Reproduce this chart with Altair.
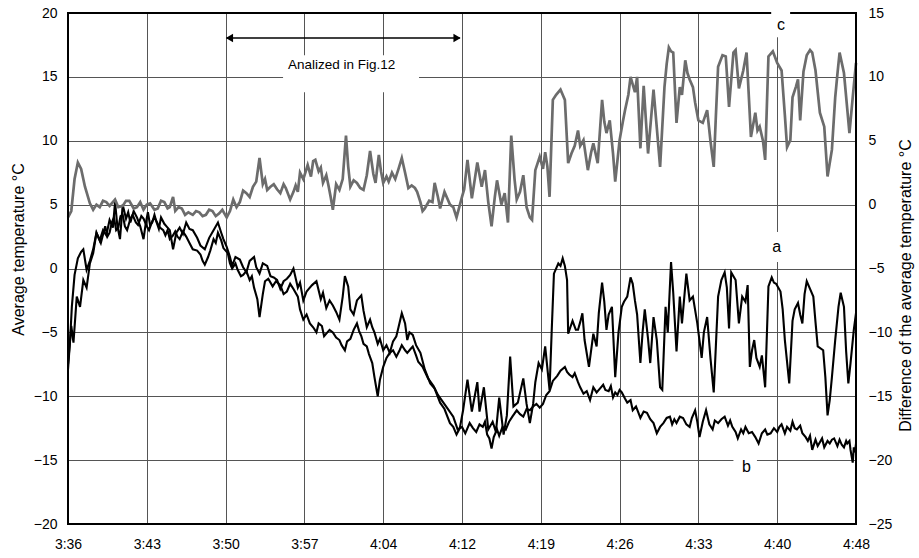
import altair as alt
import pandas as pd

# ---------------- data ----------------
time_labels = ['3:36', '3:43', '3:50', '3:57', '4:04', '4:12', '4:19', '4:26', '4:33', '4:40', '4:48']
tick_minutes = [0, 7.2, 14.4, 21.6, 28.8, 36, 43.2, 50.4, 57.6, 64.8, 72]
left_ticks = [-20, -15, -10, -5, 0, 5, 10, 15, 20]
right_ticks = [-25, -20, -15, -10, -5, 0, 5, 10, 15]

# (minutes after 3:36, average temperature degC) - series a
a_points = [
    (0, -7.9), (0.2, -5.5), (0.35, -3.0), (0.6, -0.5), (0.9, 0.8), (1.2, 1.3), (1.4, 1.5), (1.7, -0.1),
    (2.0, 0.6), (2.3, 1.5), (2.6, 2.8), (2.9, 2.2), (3.2, 3.0), (3.5, 2.6), (3.8, 3.8), (4.1, 3.2),
    (4.3, 5.2), (4.5, 3.4), (4.75, 2.3), (5.0, 5.0), (5.3, 3.9), (5.5, 4.4), (5.7, 3.6), (6.0, 4.5),
    (6.3, 4.0), (6.6, 3.3), (6.9, 2.3), (7.1, 3.5), (7.3, 4.4), (7.5, 3.4), (7.7, 3.6), (7.9, 4.2),
    (8.1, 3.6), (8.3, 3.1), (8.5, 4.0), (8.8, 3.5), (9.0, 3.3), (9.3, 3.0), (9.6, 1.5), (9.9, 2.8),
    (10.2, 3.2), (10.5, 2.7), (10.8, 3.6), (11.1, 3.1), (11.4, 3.0), (11.8, 2.4), (12.1, 1.8), (12.5, 1.5),
    (12.9, 2.4), (13.3, 3.0), (13.7, 3.6), (14.0, 2.8), (14.2, 2.3), (14.5, 1.7), (14.8, 0.9), (15.0, 0.2),
    (15.3, 0.9), (15.7, 0.7), (16.0, 0.1), (16.3, -0.3), (16.6, 0.6), (17.0, 0.9), (17.2, 0.1), (17.5, -0.4),
    (17.8, 0.4), (18.2, 0.2), (18.5, -0.6), (18.8, -0.7), (19.1, -0.9), (19.4, -1.6), (19.7, -1.0),
    (20.0, -0.8), (20.3, -0.5), (20.6, 0.0), (21.0, -1.5), (21.2, -1.1), (21.5, -2.5), (21.8, -1.8),
    (22.0, -1.6), (22.3, -1.3), (22.7, -1.0), (23.1, -2.4), (23.3, -1.9), (23.6, -3.1), (23.9, -2.5),
    (24.2, -2.9), (24.5, -3.4), (24.8, -4.0), (25.1, -2.2), (25.3, -0.6), (25.6, -1.4), (25.8, -3.2),
    (26.1, -3.6), (26.4, -2.5), (26.8, -2.1), (27.0, -3.3), (27.3, -4.6), (27.6, -4.0), (27.8, -4.6),
    (28.0, -5.0), (28.3, -5.9), (28.5, -5.5), (28.8, -6.4), (29.1, -6.0), (29.4, -6.6), (29.7, -5.7),
    (30.0, -5.3), (30.2, -4.6), (30.5, -3.5), (30.8, -4.3), (31.0, -5.6), (31.2, -5.0), (31.5, -5.2),
    (31.8, -6.0), (32.2, -6.6), (32.6, -7.9), (33.1, -9.0), (33.5, -9.4), (34.0, -10.5), (34.4, -11.0),
    (34.9, -12.1), (35.2, -12.4), (35.5, -13.0), (35.8, -12.5), (36.1, -11.1), (36.5, -8.7), (36.9, -11.2),
    (37.4, -8.9), (37.6, -11.2), (38.0, -9.3), (38.4, -12.6), (38.8, -12.0), (39.1, -12.8), (39.4, -10.1),
    (39.8, -13.0), (40.1, -11.5), (40.4, -6.9), (40.7, -10.8), (41.1, -10.5), (41.6, -8.6), (41.9, -10.6),
    (42.2, -12.1), (42.5, -10.6), (42.7, -8.9), (43.0, -7.4), (43.3, -7.9), (43.6, -6.1), (44.0, -9.5),
    (44.2, -4.8), (44.4, -0.4), (44.8, 0.4), (45.0, 0.2), (45.2, 0.8), (45.4, 0.2), (45.6, -0.9), (45.7, -5.1),
    (45.9, -4.6), (46.1, -4.1), (46.4, -4.8), (46.6, -4.8), (46.8, -4.2), (47.0, -3.5), (47.2, -5.6),
    (47.6, -7.7), (48.0, -5.1), (48.3, -6.1), (48.5, -3.5), (48.8, -1.1), (49.0, -2.6), (49.2, -4.8),
    (49.4, -3.6), (49.7, -3.0), (50.0, -8.5), (50.3, -5.0), (50.6, -3.0), (50.8, -2.6), (51.1, -2.2),
    (51.4, -0.7), (51.6, -1.2), (51.8, -2.5), (52.0, -3.6), (52.3, -7.4), (52.5, -5.0), (52.7, -3.2),
    (53.0, -5.5), (53.2, -7.4), (53.5, -3.8), (53.8, -5.6), (54.1, -9.3), (54.3, -9.5), (54.6, -3.0),
    (54.8, -5.0), (55.1, 0.5), (55.3, -1.9), (55.6, -6.5), (55.9, -2.2), (56.1, -4.3), (56.5, -0.4),
    (56.8, -2.5), (57.1, -2.2), (57.5, -4.3), (57.9, -7.0), (58.1, -5.0), (58.4, -3.8), (58.7, -7.0),
    (59.0, -9.7), (59.2, -6.0), (59.4, -2.2), (59.7, -0.9), (60.0, -0.3), (60.2, -1.5), (60.4, -4.7),
    (60.6, -0.3), (60.8, -0.6), (61.0, -0.9), (61.3, -4.3), (61.6, -2.2), (61.9, -2.6), (62.1, -1.3),
    (62.3, -7.7), (62.5, -6.4), (62.7, -5.6), (62.9, -7.0), (63.2, -7.7), (63.4, -6.8), (63.7, -9.3),
    (64.0, -1.4), (64.3, -0.7), (64.5, -1.1), (64.7, -1.2), (65.1, -1.8), (65.3, -3.2), (65.5, -5.6),
    (65.9, -9.0), (66.2, -4.1), (66.4, -3.2), (66.7, -2.7), (66.9, -3.6), (67.1, -4.3), (67.3, -2.0),
    (67.5, -1.0), (67.8, -1.6), (68.1, -2.2), (68.3, -4.2), (68.5, -6.1), (69.0, -6.4), (69.2, -8.5),
    (69.4, -11.5), (69.6, -10.3), (69.8, -8.5), (70.1, -5.6), (70.4, -3.0), (70.6, -1.9), (70.9, -3.0),
    (71.1, -6.5), (71.3, -9.0), (71.5, -7.4), (71.8, -4.8), (72.0, -3.5),
]

# series b
b_points = [
    (0, -7.5), (0.3, -4.5), (0.5, -5.8), (0.8, -2.2), (1.1, -3.0), (1.4, -0.9), (1.7, -1.5), (2.0, 0.4),
    (2.3, 1.2), (2.6, 2.8), (3.0, 2.0), (3.4, 3.3), (3.6, 2.5), (3.8, 2.8), (4.0, 3.6), (4.2, 4.0),
    (4.4, 3.0), (4.6, 3.2), (4.8, 4.1), (5.0, 4.2), (5.2, 3.3), (5.4, 3.0), (5.7, 3.9), (5.9, 4.2),
    (6.2, 3.6), (6.4, 3.4), (6.7, 4.1), (6.9, 3.9), (7.2, 3.3), (7.4, 3.0), (7.7, 3.7), (7.9, 4.0),
    (8.2, 3.5), (8.4, 3.2), (8.7, 3.0), (8.9, 2.6), (9.1, 3.0), (9.3, 2.3), (9.6, 2.6), (9.8, 2.9),
    (10.0, 2.5), (10.2, 2.3), (10.5, 2.9), (10.8, 2.5), (11.1, 2.0), (11.4, 1.5), (11.8, 1.4), (12.1, 1.1),
    (12.3, 0.6), (12.5, 0.3), (12.8, 0.9), (13.0, 1.4), (13.3, 2.3), (13.5, 2.0), (13.7, 2.8), (14.0, 2.2),
    (14.2, 1.6), (14.6, 1.2), (14.8, 0.4), (15.0, 0.0), (15.3, 0.4), (15.5, -0.1), (15.8, -0.6), (16.0, -0.5),
    (16.3, -0.2), (16.6, -0.9), (16.8, -0.6), (17.0, -1.5), (17.3, -2.4), (17.5, -3.8), (17.8, -2.0),
    (18.0, -1.0), (18.3, -0.8), (18.7, -1.4), (19.0, -1.0), (19.4, -1.3), (19.7, -2.0), (20.0, -1.8),
    (20.3, -1.2), (20.6, -1.6), (21.0, -2.2), (21.2, -3.2), (21.5, -4.0), (21.8, -3.6), (22.1, -4.3),
    (22.4, -4.6), (22.7, -5.0), (22.9, -4.3), (23.2, -4.5), (23.4, -5.3), (23.6, -5.1), (23.9, -4.8),
    (24.2, -5.0), (24.5, -5.4), (24.8, -5.6), (25.0, -6.0), (25.3, -6.4), (25.5, -5.7), (25.8, -5.5),
    (26.1, -4.8), (26.4, -4.3), (26.6, -4.9), (26.8, -5.3), (27.0, -5.9), (27.3, -6.1), (27.5, -6.7),
    (27.8, -7.4), (28.0, -8.5), (28.3, -10.0), (28.5, -8.7), (28.8, -7.7), (29.1, -7.0), (29.4, -6.6),
    (29.7, -6.4), (30.0, -6.9), (30.3, -6.4), (30.5, -6.0), (30.8, -6.4), (31.0, -6.6), (31.3, -6.3),
    (31.5, -6.1), (31.8, -6.8), (32.0, -7.3), (32.4, -7.7), (32.9, -8.6), (33.4, -9.2), (33.8, -9.9),
    (34.3, -10.5), (34.8, -11.1), (35.2, -11.6), (35.6, -12.6), (36.0, -12.4), (36.3, -12.9), (36.7, -12.1),
    (37.0, -12.5), (37.3, -12.8), (37.6, -12.2), (37.9, -12.4), (38.1, -12.0), (38.3, -13.0), (38.5, -13.3),
    (38.7, -14.1), (38.9, -13.2), (39.2, -12.6), (39.4, -13.1), (39.7, -12.4), (40.0, -12.6), (40.3, -12.0),
    (40.6, -11.6), (41.0, -11.1), (41.3, -11.4), (41.6, -11.6), (41.9, -11.0), (42.2, -11.1), (42.5, -10.8),
    (42.8, -10.6), (43.1, -10.9), (43.4, -10.6), (43.7, -9.9), (44.0, -9.6), (44.3, -8.8), (44.7, -8.4),
    (45.0, -8.0), (45.4, -7.7), (45.6, -8.1), (45.8, -8.3), (46.1, -8.5), (46.3, -8.2), (46.6, -8.9),
    (46.8, -9.3), (47.1, -9.8), (47.4, -9.6), (47.7, -10.3), (48.0, -9.3), (48.3, -9.7), (48.6, -9.4),
    (48.9, -9.1), (49.1, -9.5), (49.4, -9.6), (49.6, -9.2), (49.8, -10.1), (50.0, -9.7), (50.2, -9.9),
    (50.4, -9.5), (50.6, -9.7), (50.9, -10.2), (51.1, -10.5), (51.4, -10.3), (51.6, -11.1), (51.9, -10.8),
    (52.3, -11.7), (52.6, -11.2), (52.9, -11.3), (53.2, -11.8), (53.5, -12.1), (53.8, -12.9), (54.1, -12.4),
    (54.4, -12.1), (54.7, -11.7), (55.0, -11.6), (55.2, -12.2), (55.4, -11.8), (55.6, -12.1), (55.9, -11.6),
    (56.2, -11.7), (56.5, -12.2), (56.8, -12.4), (57.0, -11.7), (57.3, -11.1), (57.5, -12.0), (57.7, -13.2),
    (58.0, -12.0), (58.3, -11.1), (58.6, -12.2), (58.9, -12.6), (59.1, -11.9), (59.4, -12.1), (59.7, -11.8),
    (60.0, -11.6), (60.3, -12.3), (60.5, -11.9), (60.7, -12.4), (61.0, -12.8), (61.2, -13.3), (61.5, -12.6),
    (61.7, -12.9), (61.9, -12.4), (62.2, -12.9), (62.5, -12.8), (62.8, -13.2), (63.1, -13.7), (63.4, -12.9),
    (63.7, -12.6), (63.9, -13.0), (64.2, -12.9), (64.5, -12.5), (64.8, -12.8), (65.0, -12.4), (65.2, -12.2),
    (65.5, -12.9), (65.7, -12.4), (66.0, -12.7), (66.2, -12.0), (66.4, -12.5), (66.6, -12.6), (66.9, -12.3),
    (67.1, -12.9), (67.4, -13.2), (67.6, -13.5), (67.8, -13.1), (68.0, -14.2), (68.3, -13.4), (68.5, -13.9),
    (68.7, -13.6), (68.9, -13.3), (69.1, -14.0), (69.4, -13.5), (69.6, -13.7), (69.8, -13.4), (70.0, -13.3),
    (70.3, -13.9), (70.5, -13.4), (70.7, -13.8), (70.9, -14.0), (71.1, -13.5), (71.2, -13.7), (71.4, -13.5),
    (71.5, -14.2), (71.7, -15.2), (71.8, -14.0), (71.9, -14.4), (72.0, -13.7),
]

# series c (difference, right axis)
c_points = [
    (0, -1.0), (0.3, -0.5), (0.6, 2.0), (0.9, 3.3), (1.2, 2.8), (1.55, 1.4), (2.0, 0.1), (2.3, -0.4),
    (2.6, 0.0), (2.9, -0.2), (3.2, 0.3), (3.5, 0.2), (3.8, -0.1), (4.3, 0.4), (4.6, -0.2), (5.0, -0.1),
    (5.3, 0.3), (5.6, 0.3), (6.0, -0.3), (6.3, -0.2), (6.6, 0.2), (6.9, -0.4), (7.2, 0.0), (7.5, 0.1),
    (7.9, -0.4), (8.2, -0.3), (8.5, 0.3), (8.8, 0.2), (9.1, -0.3), (9.3, -0.2), (9.6, 0.6), (9.8, -0.5),
    (10.1, -0.2), (10.4, -0.3), (10.7, -0.8), (11.0, -0.6), (11.4, -0.8), (11.7, -0.5), (12.0, -0.6),
    (12.3, -0.9), (12.6, -0.8), (12.9, -0.4), (13.2, -0.5), (13.5, -0.9), (13.8, -0.7), (14.1, -0.4),
    (14.5, -1.0), (14.8, -0.5), (15.1, 0.4), (15.4, -0.2), (15.7, 0.2), (16.0, 1.1), (16.3, 0.9), (16.6, 0.6),
    (16.9, 1.4), (17.2, 1.8), (17.5, 3.65), (17.8, 1.6), (18.0, 2.0), (18.2, 1.15), (18.5, 1.4), (18.8, 1.6),
    (19.1, 1.2), (19.4, 0.9), (19.7, 1.6), (19.9, 1.3), (20.3, 0.4), (20.6, 1.0), (20.8, 1.5), (21.0, 1.0),
    (21.2, 2.5), (21.5, 2.0), (21.9, 3.1), (22.2, 2.2), (22.4, 3.4), (22.6, 3.5), (22.9, 2.6), (23.1, 2.9),
    (23.3, 1.7), (23.6, 2.3), (23.8, 1.5), (24.0, 0.6), (24.2, -0.4), (24.5, 1.6), (24.8, 1.15), (25.1, 2.0),
    (25.4, 5.4), (25.6, 3.0), (25.8, 1.4), (26.1, 1.9), (26.4, 1.7), (26.7, 1.3), (27.0, 1.15), (27.3, 2.3),
    (27.6, 4.2), (27.9, 2.4), (28.1, 1.7), (28.4, 3.9), (28.6, 2.6), (28.8, 1.7), (29.1, 2.2), (29.3, 1.8),
    (29.6, 2.5), (29.9, 2.0), (30.2, 2.8), (30.5, 3.65), (30.8, 2.5), (31.1, 1.3), (31.4, 1.5), (31.7, 1.3),
    (31.9, 1.0), (32.2, 0.2), (32.4, -0.5), (32.6, -0.3), (33.0, 0.3), (33.3, 0.2), (33.5, 1.7), (33.8, 0.6),
    (34.0, -0.3), (34.4, 1.0), (34.7, 0.4), (34.9, 0.0), (35.2, -0.2), (35.5, -1.0), (36.0, 0.6), (36.2, 1.2),
    (36.5, 3.5), (36.9, 0.5), (37.1, 1.6), (37.4, 3.3), (37.8, 1.4), (38.1, 2.7), (38.4, 0.2), (38.7, -1.7),
    (39.0, 0.6), (39.2, 1.9), (39.6, 0.0), (39.9, 0.9), (40.2, -1.4), (40.5, 5.4), (40.8, 2.0), (41.0, 0.4),
    (41.3, 1.0), (41.6, 2.3), (41.9, -0.2), (42.2, -1.0), (42.4, -1.2), (42.7, 2.7), (43.1, 3.75),
    (43.4, 2.8), (43.6, 4.1), (43.8, 3.0), (44.0, 0.6), (44.3, 8.2), (44.6, 8.6), (45.0, 9.0), (45.2, 8.6),
    (45.4, 8.2), (45.7, 3.25), (46.0, 4.0), (46.3, 4.6), (46.6, 5.8), (46.8, 4.6), (47.1, 5.05), (47.5, 2.7),
    (47.8, 4.1), (48.0, 4.8), (48.4, 3.25), (48.8, 8.2), (49.0, 6.5), (49.2, 5.6), (49.5, 6.6), (49.8, 4.0),
    (50.0, 1.8), (50.4, 5.05), (50.7, 6.5), (50.9, 7.4), (51.2, 8.6), (51.4, 10.0), (51.8, 8.8), (52.0, 10.0),
    (52.3, 4.4), (52.6, 9.3), (53.0, 4.0), (53.5, 9.0), (53.8, 6.0), (54.1, 2.95), (54.5, 9.2), (54.7, 11.0),
    (54.9, 12.3), (55.1, 12.0), (55.3, 11.9), (55.6, 6.4), (55.9, 9.2), (56.1, 8.6), (56.4, 11.3),
    (56.6, 10.3), (56.8, 9.8), (57.1, 9.2), (57.3, 8.0), (57.6, 6.6), (58.0, 6.4), (58.4, 7.4), (58.7, 5.0),
    (59.0, 2.95), (59.2, 7.0), (59.4, 10.8), (59.8, 11.7), (60.1, 11.6), (60.4, 7.65), (60.8, 11.9),
    (61.0, 12.1), (61.3, 9.1), (61.7, 10.5), (62.0, 11.9), (62.4, 5.3), (62.8, 7.2), (63.0, 5.8), (63.2, 6.1),
    (63.5, 5.0), (63.7, 3.5), (64.0, 11.6), (64.4, 12.0), (64.8, 11.1), (65.2, 10.5), (65.5, 7.0), (65.7, 4.5),
    (66.0, 5.05), (66.2, 8.4), (66.5, 9.2), (66.7, 9.8), (66.9, 6.6), (67.2, 10.4), (67.5, 11.7),
    (67.8, 12.1), (68.0, 11.9), (68.3, 10.5), (68.7, 7.2), (69.1, 6.1), (69.4, 2.2), (69.8, 4.3), (70.1, 8.4),
    (70.3, 10.2), (70.5, 11.9), (70.9, 10.3), (71.2, 7.5), (71.4, 5.6), (71.7, 8.4), (72.0, 11.1),
]

# annotations (in data units: minutes, left-axis degC)
label_texts = ['Analized in Fig.12', 'a', 'b', 'c']
label_t = [25.0, 64.75, 62.0, 65.15]
label_v = [15.9, 1.65, -15.5, 19.06]
label_sizes = [13.5, 16, 16, 16]
# white boxes that interrupt grid lines behind the labels: (t1, t2, v1, v2)
gap_boxes = [(19.65, 32.07, 16.7, 13.8), (63.8, 65.3, 2.86, 0.51), (60.8, 62.95, -14.2, -16.5), (64.25, 65.98, 20.4, 18.1)]
arrow_span = (14.5, 35.8, 18.04)

# ---------------- chart ----------------
FONT = 'Liberation Sans'
W, H = 788, 511

label_expr = '[' + ','.join("'%s'" % s for s in time_labels) + '][round(datum.value/7.2)]'
x_axis = alt.Axis(values=tick_minutes, labelExpr=label_expr, title=None, grid=True, ticks=False,
                  domain=False, labelPadding=13, labelFlush=False, labelOverlap=False)
x_scale = alt.Scale(domain=[0, 72], nice=False, zero=False)
X = alt.X('t:Q', scale=x_scale, axis=x_axis)

left_scale = alt.Scale(domain=[-20, 20], nice=False, zero=False)
left_axis = alt.Axis(orient='left', values=left_ticks, title='Average temperature  °C', grid=True,
                     ticks=False, domain=False, labelPadding=11, titleAngle=270, titleX=-50, titleY=236,
                     titleAlign='center', titleBaseline='middle', labelOverlap=False)
Y_left = alt.Y('v:Q', scale=left_scale, axis=left_axis)

right_scale = alt.Scale(domain=[-25, 15], nice=False, zero=False)
right_axis = alt.Axis(orient='right', values=right_ticks, title='Difference of the average temperature  °C',
                      grid=False, ticks=False, domain=False, labelPadding=12, titleAngle=270, titleX=49,
                      titleY=272, titleAlign='center', titleBaseline='middle', labelOverlap=False)
Y_right = alt.Y('v:Q', scale=right_scale, axis=right_axis)

df_a = pd.DataFrame(a_points, columns=['t', 'v'])
df_b = pd.DataFrame(b_points, columns=['t', 'v'])
df_c = pd.DataFrame(c_points, columns=['t', 'v'])

line_a = alt.Chart(df_a).mark_line(color='black', strokeWidth=2.1).encode(x=X, y=Y_left)
line_b = alt.Chart(df_b).mark_line(color='black', strokeWidth=2.1).encode(x=X, y=Y_left)
left_layer = alt.layer(line_a, line_b)

line_c = alt.Chart(df_c).mark_line(color='#6c6c6c', strokeWidth=2.7).encode(x=X, y=Y_right)

# overlay layer (own y scale, same domain as left, no axis)
Y_ov = alt.Y('v:Q', scale=left_scale, axis=None)

frame = alt.Chart(pd.DataFrame({'k': [0]})).mark_rect(fillOpacity=0, stroke='black', strokeWidth=2).encode(
    x=alt.value(0), x2=alt.value(W), y=alt.value(0), y2=alt.value(H))

df_box = pd.DataFrame(gap_boxes, columns=['t', 't2', 'v', 'v2'])
boxes = alt.Chart(df_box).mark_rect(color='white').encode(x=X, x2='t2:Q', y=Y_ov, y2='v2:Q')

df_lab = pd.DataFrame({'t': label_t, 'v': label_v, 'txt': label_texts, 'sz': label_sizes})
labels = alt.Chart(df_lab).mark_text(font=FONT, color='black', baseline='middle', align='center').encode(
    x=X, y=Y_ov, text='txt:N', size=alt.Size('sz:Q', scale=None, legend=None))

df_arrow = pd.DataFrame({'t': [arrow_span[0]], 't2': [arrow_span[1]], 'v': [arrow_span[2]]})
arrow_line = alt.Chart(df_arrow).mark_rule(color='black', strokeWidth=1.6).encode(x=X, x2='t2:Q', y=Y_ov)
df_heads = pd.DataFrame({'t': [14.75, 35.55], 'v': [arrow_span[2]] * 2,
                         'shape': ['triangle-left', 'triangle-right']})
heads = alt.Chart(df_heads).mark_point(filled=True, color='black', opacity=1, size=70).encode(
    x=X, y=Y_ov, shape=alt.Shape('shape:N', scale=None, legend=None))

overlay = alt.layer(frame, boxes, labels, arrow_line, heads)

chart = alt.layer(left_layer, line_c, overlay).resolve_scale(y='independent').properties(
    width=W, height=H,
    padding={'left': 68, 'top': 13, 'right': 63, 'bottom': 34},
    autosize=alt.AutoSizeParams(type='none'),
    background='white',
).configure_view(stroke=None).configure_axis(
    labelFont=FONT, titleFont=FONT, labelFontSize=14, titleFontSize=16, titleFontWeight='normal',
    labelColor='black', titleColor='black', gridColor='#555555', gridWidth=1, gridOpacity=1,
)

chart.save('out.html', embed_options={'renderer': 'svg', 'actions': False})
